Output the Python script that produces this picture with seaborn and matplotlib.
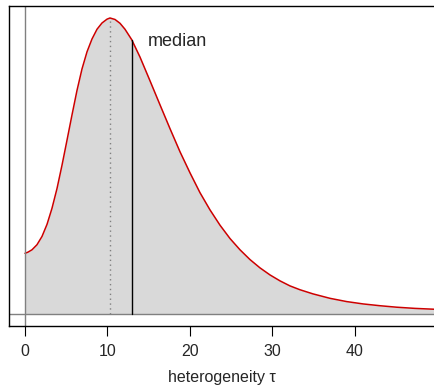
import seaborn as sns
import matplotlib.pyplot as plt
import pandas as pd

# posterior density of tau (relative to the mode)
tau = [0.0, 0.36, 0.85, 1.45, 2.06, 2.67, 3.27, 3.88, 4.48, 5.09, 5.70,
       6.30, 6.91, 7.52, 8.12, 8.73, 9.33, 9.94, 10.3, 10.91, 11.52, 12.12,
       12.93, 13.94, 15.15, 16.36, 17.58, 18.79, 20.0, 21.21, 22.42, 23.64,
       24.85, 26.06, 27.27, 28.48, 29.7, 30.91, 32.12, 33.33, 34.91, 36.97,
       38.99, 41.0, 43.03, 45.05, 47.27, 49.7]
density = [0.205, 0.209, 0.217, 0.234, 0.262, 0.303, 0.357, 0.424, 0.502,
           0.587, 0.673, 0.755, 0.828, 0.886, 0.929, 0.962, 0.983, 0.996,
           1.000, 0.995, 0.982, 0.962, 0.927, 0.868, 0.788, 0.707, 0.626,
           0.548, 0.477, 0.410, 0.352, 0.300, 0.255, 0.217, 0.184, 0.156,
           0.132, 0.112, 0.095, 0.082, 0.068, 0.053, 0.042, 0.034, 0.028,
           0.023, 0.019, 0.016]
tau_mode = 10.3
tau_median = 12.93
median_density = 0.927
xticks = [0, 10, 20, 30, 40]

df = pd.DataFrame({"tau": tau, "density": density})

sns.set_style("white")
plt.rcParams["font.family"] = ["Liberation Sans", "DejaVu Sans"]

fig = plt.figure(figsize=(4.35, 3.9), dpi=100)
ax = fig.add_axes([9 / 435, 64 / 390, 426 / 435, 320 / 390])

ax.fill_between(df["tau"], 0, df["density"], color="#d9d9d9", lw=0)
sns.lineplot(data=df, x="tau", y="density", color="#cd0000", lw=1.1, ax=ax)

ax.axhline(0, color="#808080", lw=1)
ax.axvline(0, color="#808080", lw=1)
ax.plot([tau_mode, tau_mode], [0, 1.0], color="#808080", lw=1, ls=(0, (1, 2.5)))
ax.plot([tau_median, tau_median], [0, median_density], color="black", lw=1)
ax.text(14.9, 0.92, "median", fontsize=13, ha="left", va="center")

ax.set_xlim(-1.94, 49.7)
ax.set_ylim(-0.0405, 1.0405)
ax.set_xticks(xticks)
ax.set_yticks([])
ax.tick_params(axis="x", direction="out", length=7, width=0.8, color="black",
               labelsize=11.5, pad=6, bottom=True)
ax.set_xlabel("heterogeneity τ", fontsize=11.5, labelpad=8)
ax.set_ylabel("")
for side in ["left", "top", "bottom"]:
    ax.spines[side].set_color("black")
    ax.spines[side].set_linewidth(1)
ax.spines["right"].set_visible(False)

fig.savefig("out.png", dpi=100)
